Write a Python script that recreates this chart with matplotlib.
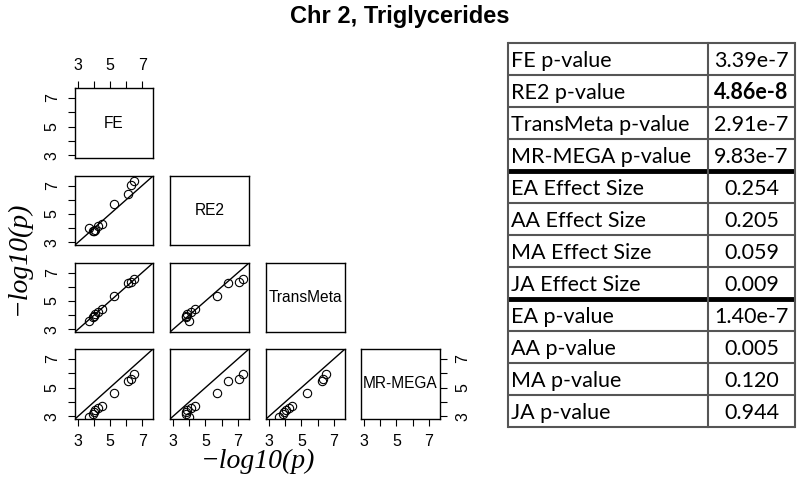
import matplotlib

matplotlib.use("Agg")
import matplotlib.pyplot as plt
from matplotlib import font_manager

# -log10(p) for the SNPs in the region, one list per method
methods = ["FE", "RE2", "TransMeta", "MR-MEGA"]
fe = [3.72, 3.95, 4.00, 4.08, 4.27, 4.50, 5.27, 6.13, 6.30, 6.47]
re2 = [3.99, 3.78, 3.82, 3.88, 4.14, 4.33, 5.74, 6.38, 7.05, 7.31]
transmeta = [3.59, 3.86, 3.95, 4.06, 4.26, 4.42, 5.33, 6.24, 6.34, 6.54]
mrmega = [2.99, 3.15, 3.30, 3.42, 3.59, 3.71, 4.61, 5.45, 5.62, 5.95]

ticks = [3, 4, 5, 6, 7]
tick_labels = ["3", "", "5", "", "7"]

row_labels = [
    "FE p-value", "RE2 p-value", "TransMeta p-value", "MR-MEGA p-value",
    "EA Effect Size", "AA Effect Size", "MA Effect Size", "JA Effect Size",
    "EA p-value", "AA p-value", "MA p-value", "JA p-value",
]
row_values = [
    "3.39e-7", "4.86e-8", "2.91e-7", "9.83e-7",
    "0.254", "0.205", "0.059", "0.009",
    "1.40e-7", "0.005", "0.120", "0.944",
]
bold_rows = [1]
thick_after = [4, 8]

W, H = 800, 495
fig = plt.figure(figsize=(W / 100, H / 100), dpi=100)


def px_axes(x0, y0, x1, y1):
    return fig.add_axes([x0 / W, 1 - y1 / H, (x1 - x0) / W, (y1 - y0) / H])


col_x = [(75, 153), (170, 249), (266, 345), (361, 440)]
row_y = [(88, 158), (176, 245), (263, 332), (349, 419)]
lo, hi = 2.82, 7.68
values = [fe, re2, transmeta, mrmega]
n = len(methods)

for i in range(n):
    for j in range(i + 1):
        ax = px_axes(col_x[j][0], row_y[i][0], col_x[j][1], row_y[i][1])
        ax.set_xlim(lo, hi)
        ax.set_ylim(lo, hi)
        for s in ax.spines.values():
            s.set_linewidth(1.0)
        ax.tick_params(length=5, width=0.8, labelsize=11.5, pad=6,
                       left=False, bottom=False, labelleft=False, labelbottom=False)
        ax.set_xticks(ticks)
        ax.set_yticks(ticks)
        ax.set_xticklabels(tick_labels)
        ax.set_yticklabels(tick_labels, rotation=90, va="center")
        if i == j:
            ax.text(0.5, 0.5, methods[i], transform=ax.transAxes, ha="center",
                    va="center", fontsize=11.2, family="Liberation Sans")
        else:
            ax.plot([lo, hi], [lo, hi], color="black", lw=1.0)
            ax.plot(values[j], values[i], "o", mfc="none", mec="black",
                    ms=6, mew=0.8)
        if i == 0:
            ax.tick_params(top=True, labeltop=True)
        if i == n - 1:
            ax.tick_params(bottom=True, labelbottom=True)
        if j == 0:
            ax.tick_params(left=True, labelleft=True)
        if i == n - 1 and j == n - 1:
            ax.tick_params(right=True, labelright=True)
        for lab in ax.get_xticklabels() + ax.get_yticklabels():
            lab.set_family("Liberation Sans")

fig.text(258 / W, 1 - 461 / H, "\u2212log10(p)", ha="center", va="center",
         fontsize=20, family="Liberation Serif", style="italic")
fig.text(18 / W, 1 - 258 / H, "\u2212log10(p)", ha="center", va="center",
         fontsize=20, family="Liberation Serif", style="italic", rotation=90)

installed = {f.name for f in font_manager.fontManager.ttflist}
if "Liberation Sans Narrow" in installed:
    title_font, title_size = "Liberation Sans Narrow", 19
else:
    title_font, title_size = "Liberation Sans", 17
fig.text(0.5, 1 - 17 / H, "Chr 2, Triglycerides", ha="center", va="center",
         fontsize=title_size, fontweight="bold", family=title_font)

# summary table
tab = px_axes(508, 43, 795, 427)
tab.set_xlim(0, 1)
tab.set_ylim(len(row_labels), 0)
tab.axis("off")
split = (708 - 508) / (795 - 508)
grid = "#555555"
for k in range(len(row_labels) + 1):
    lw = 3.5 if k in thick_after else 1.5
    c = "black" if k in thick_after else grid
    tab.plot([0, 1], [k, k], color=c, lw=lw, clip_on=False,
             solid_capstyle="butt")
for xv in (0, split, 1):
    tab.plot([xv, xv], [0, len(row_labels)], color=grid, lw=1.5,
             clip_on=False)
for k, (lab, val) in enumerate(zip(row_labels, row_values)):
    tab.text(0.01, k + 0.55, lab, ha="left", va="center", fontsize=15.5,
             family="Lato")
    tab.text((split + 1) / 2, k + 0.55, val, ha="center", va="center",
             fontsize=15.5, family="Lato",
             fontweight="bold" if k in bold_rows else "normal")

fig.savefig("out.png", dpi=100)
